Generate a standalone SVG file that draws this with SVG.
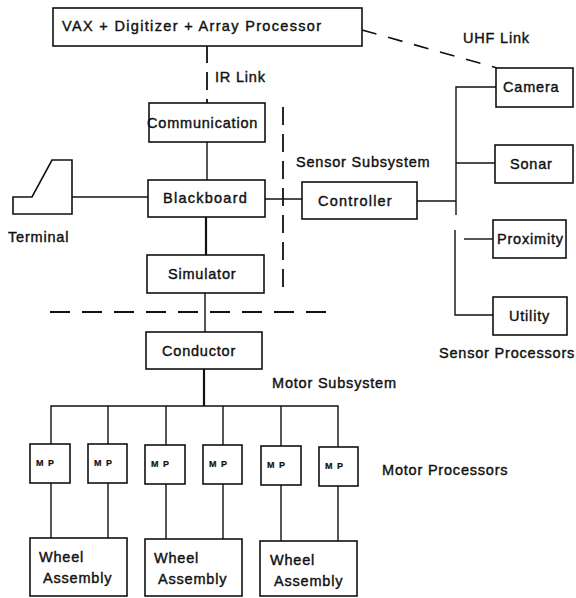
<svg xmlns="http://www.w3.org/2000/svg" width="576" height="598" viewBox="0 0 576 598">
<style>
  .box { fill: #fff; stroke: #111; stroke-width: 1.6; }
  .ln { fill: none; stroke: #111; stroke-width: 1.4; }
  .thick { fill: none; stroke: #111; stroke-width: 2.2; }
  .dash { fill: none; stroke: #111; stroke-width: 1.8; stroke-dasharray: 18 9; }
  .dashh { fill: none; stroke: #111; stroke-width: 1.8; stroke-dasharray: 20 12; }
  .uhf { fill: none; stroke: #111; stroke-width: 1.6; stroke-dasharray: 15 12; }
  text { font-family: "Liberation Sans", Arial, sans-serif; font-size: 14.5px; fill: #111; stroke: #111; stroke-width: 0.4px; letter-spacing: 0.8px; }
  .mp { font-size: 9px; font-weight: bold; stroke-width: 0.2px; letter-spacing: 1px; }
</style>
<rect width="576" height="598" fill="#fff"/>

<g id="connectors">
  <line class="dash" x1="207" y1="45" x2="207" y2="103"/>
  <line class="uhf" x1="362" y1="30" x2="497" y2="68"/>
  <line class="ln" x1="207" y1="142" x2="207" y2="180"/>
  <line class="ln" x1="72" y1="197" x2="148" y2="197"/>
  <line class="ln" x1="265" y1="199" x2="302" y2="199"/>
  <line class="thick" x1="206" y1="217" x2="206" y2="255"/>
  <line class="ln" x1="205" y1="293" x2="205" y2="332"/>
  <line class="ln" x1="417" y1="201" x2="456" y2="201"/>
  <polyline class="ln" points="496,87 456,87 456,215"/>
  <line class="ln" x1="456" y1="163" x2="495" y2="163"/>
  <polyline class="ln" points="455,230 455,315 493,315"/>
  <line class="ln" x1="464" y1="239" x2="493" y2="239"/>
  <line class="thick" x1="204" y1="369" x2="204" y2="406"/>
  <polyline class="ln" points="51,444 51,406 338,406 338,447"/>
  <line class="ln" x1="108" y1="406" x2="108" y2="444"/>
  <line class="ln" x1="166" y1="406" x2="166" y2="445"/>
  <line class="ln" x1="223" y1="406" x2="223" y2="445"/>
  <line class="ln" x1="281" y1="406" x2="281" y2="446"/>
  <line class="ln" x1="51" y1="483" x2="51" y2="538"/>
  <line class="ln" x1="108" y1="483" x2="108" y2="538"/>
  <line class="ln" x1="166" y1="484" x2="166" y2="539"/>
  <line class="ln" x1="223" y1="484" x2="223" y2="539"/>
  <line class="ln" x1="281" y1="485" x2="281" y2="541"/>
  <line class="ln" x1="338" y1="486" x2="338" y2="541"/>
  <line class="dash" x1="283" y1="107" x2="283" y2="293"/>
  <line class="dashh" x1="50" y1="312" x2="337" y2="312"/>
</g>

<g id="vax">
  <rect class="box" x="53" y="8" width="309" height="38"/>
  <text x="62" y="31" style="letter-spacing:1.33px">VAX + Digitizer + Array Processor</text>
</g>
<text id="ir-link" x="215" y="82">IR Link</text>
<text id="uhf-link" x="463" y="43">UHF Link</text>

<g id="communication">
  <rect class="box" x="149" y="103" width="116" height="39"/>
  <text x="147" y="128">Communication</text>
</g>

<g id="terminal">
  <polygon class="box" points="13,197 32,197 52,160 72,160 72,214 13,214"/>
  <text x="8" y="242">Terminal</text>
</g>

<g id="blackboard">
  <rect class="box" x="148" y="180" width="117" height="37"/>
  <text x="163" y="203" style="letter-spacing:1.25px">Blackboard</text>
</g>

<text id="sensor-subsystem" x="296" y="167">Sensor Subsystem</text>

<g id="controller">
  <rect class="box" x="302" y="182" width="115" height="37"/>
  <text x="318" y="206" style="letter-spacing:1.2px">Controller</text>
</g>

<g id="simulator">
  <rect class="box" x="147" y="255" width="117" height="38"/>
  <text x="168" y="279">Simulator</text>
</g>

<g id="camera">
  <rect class="box" x="496" y="68" width="77" height="39"/>
  <text x="503" y="92">Camera</text>
</g>
<g id="sonar">
  <rect class="box" x="495" y="145" width="78" height="38"/>
  <text x="510" y="169">Sonar</text>
</g>
<g id="proximity">
  <rect class="box" x="493" y="220" width="73" height="38"/>
  <text x="497" y="244">Proximity</text>
</g>
<g id="utility">
  <rect class="box" x="493" y="297" width="74" height="38"/>
  <text x="509" y="321">Utility</text>
</g>
<text id="sensor-processors" x="439" y="358">Sensor Processors</text>

<g id="conductor">
  <rect class="box" x="146" y="332" width="116" height="37"/>
  <text x="162" y="356">Conductor</text>
</g>
<text id="motor-subsystem" x="272" y="388">Motor Subsystem</text>

<g id="mp1"><rect class="box" x="30" y="444" width="40" height="39"/><text class="mp" x="36" y="466">M P</text></g>
<g id="mp2"><rect class="box" x="88" y="444" width="39" height="39"/><text class="mp" x="94" y="466">M P</text></g>
<g id="mp3"><rect class="box" x="145" y="445" width="40" height="39"/><text class="mp" x="151" y="467">M P</text></g>
<g id="mp4"><rect class="box" x="203" y="445" width="39" height="39"/><text class="mp" x="209" y="467">M P</text></g>
<g id="mp5"><rect class="box" x="261" y="446" width="40" height="39"/><text class="mp" x="267" y="468">M P</text></g>
<g id="mp6"><rect class="box" x="319" y="447" width="39" height="39"/><text class="mp" x="325" y="469">M P</text></g>
<text id="motor-processors" x="382" y="475">Motor Processors</text>

<g id="wheel1">
  <rect class="box" x="30" y="538" width="97" height="58"/>
  <text x="39" y="562">Wheel</text>
  <text x="43" y="583">Assembly</text>
</g>
<g id="wheel2">
  <rect class="box" x="145" y="539" width="97" height="57"/>
  <text x="154" y="563">Wheel</text>
  <text x="158" y="584">Assembly</text>
</g>
<g id="wheel3">
  <rect class="box" x="260" y="541" width="97" height="55"/>
  <text x="270" y="565">Wheel</text>
  <text x="274" y="586">Assembly</text>
</g>
</svg>
